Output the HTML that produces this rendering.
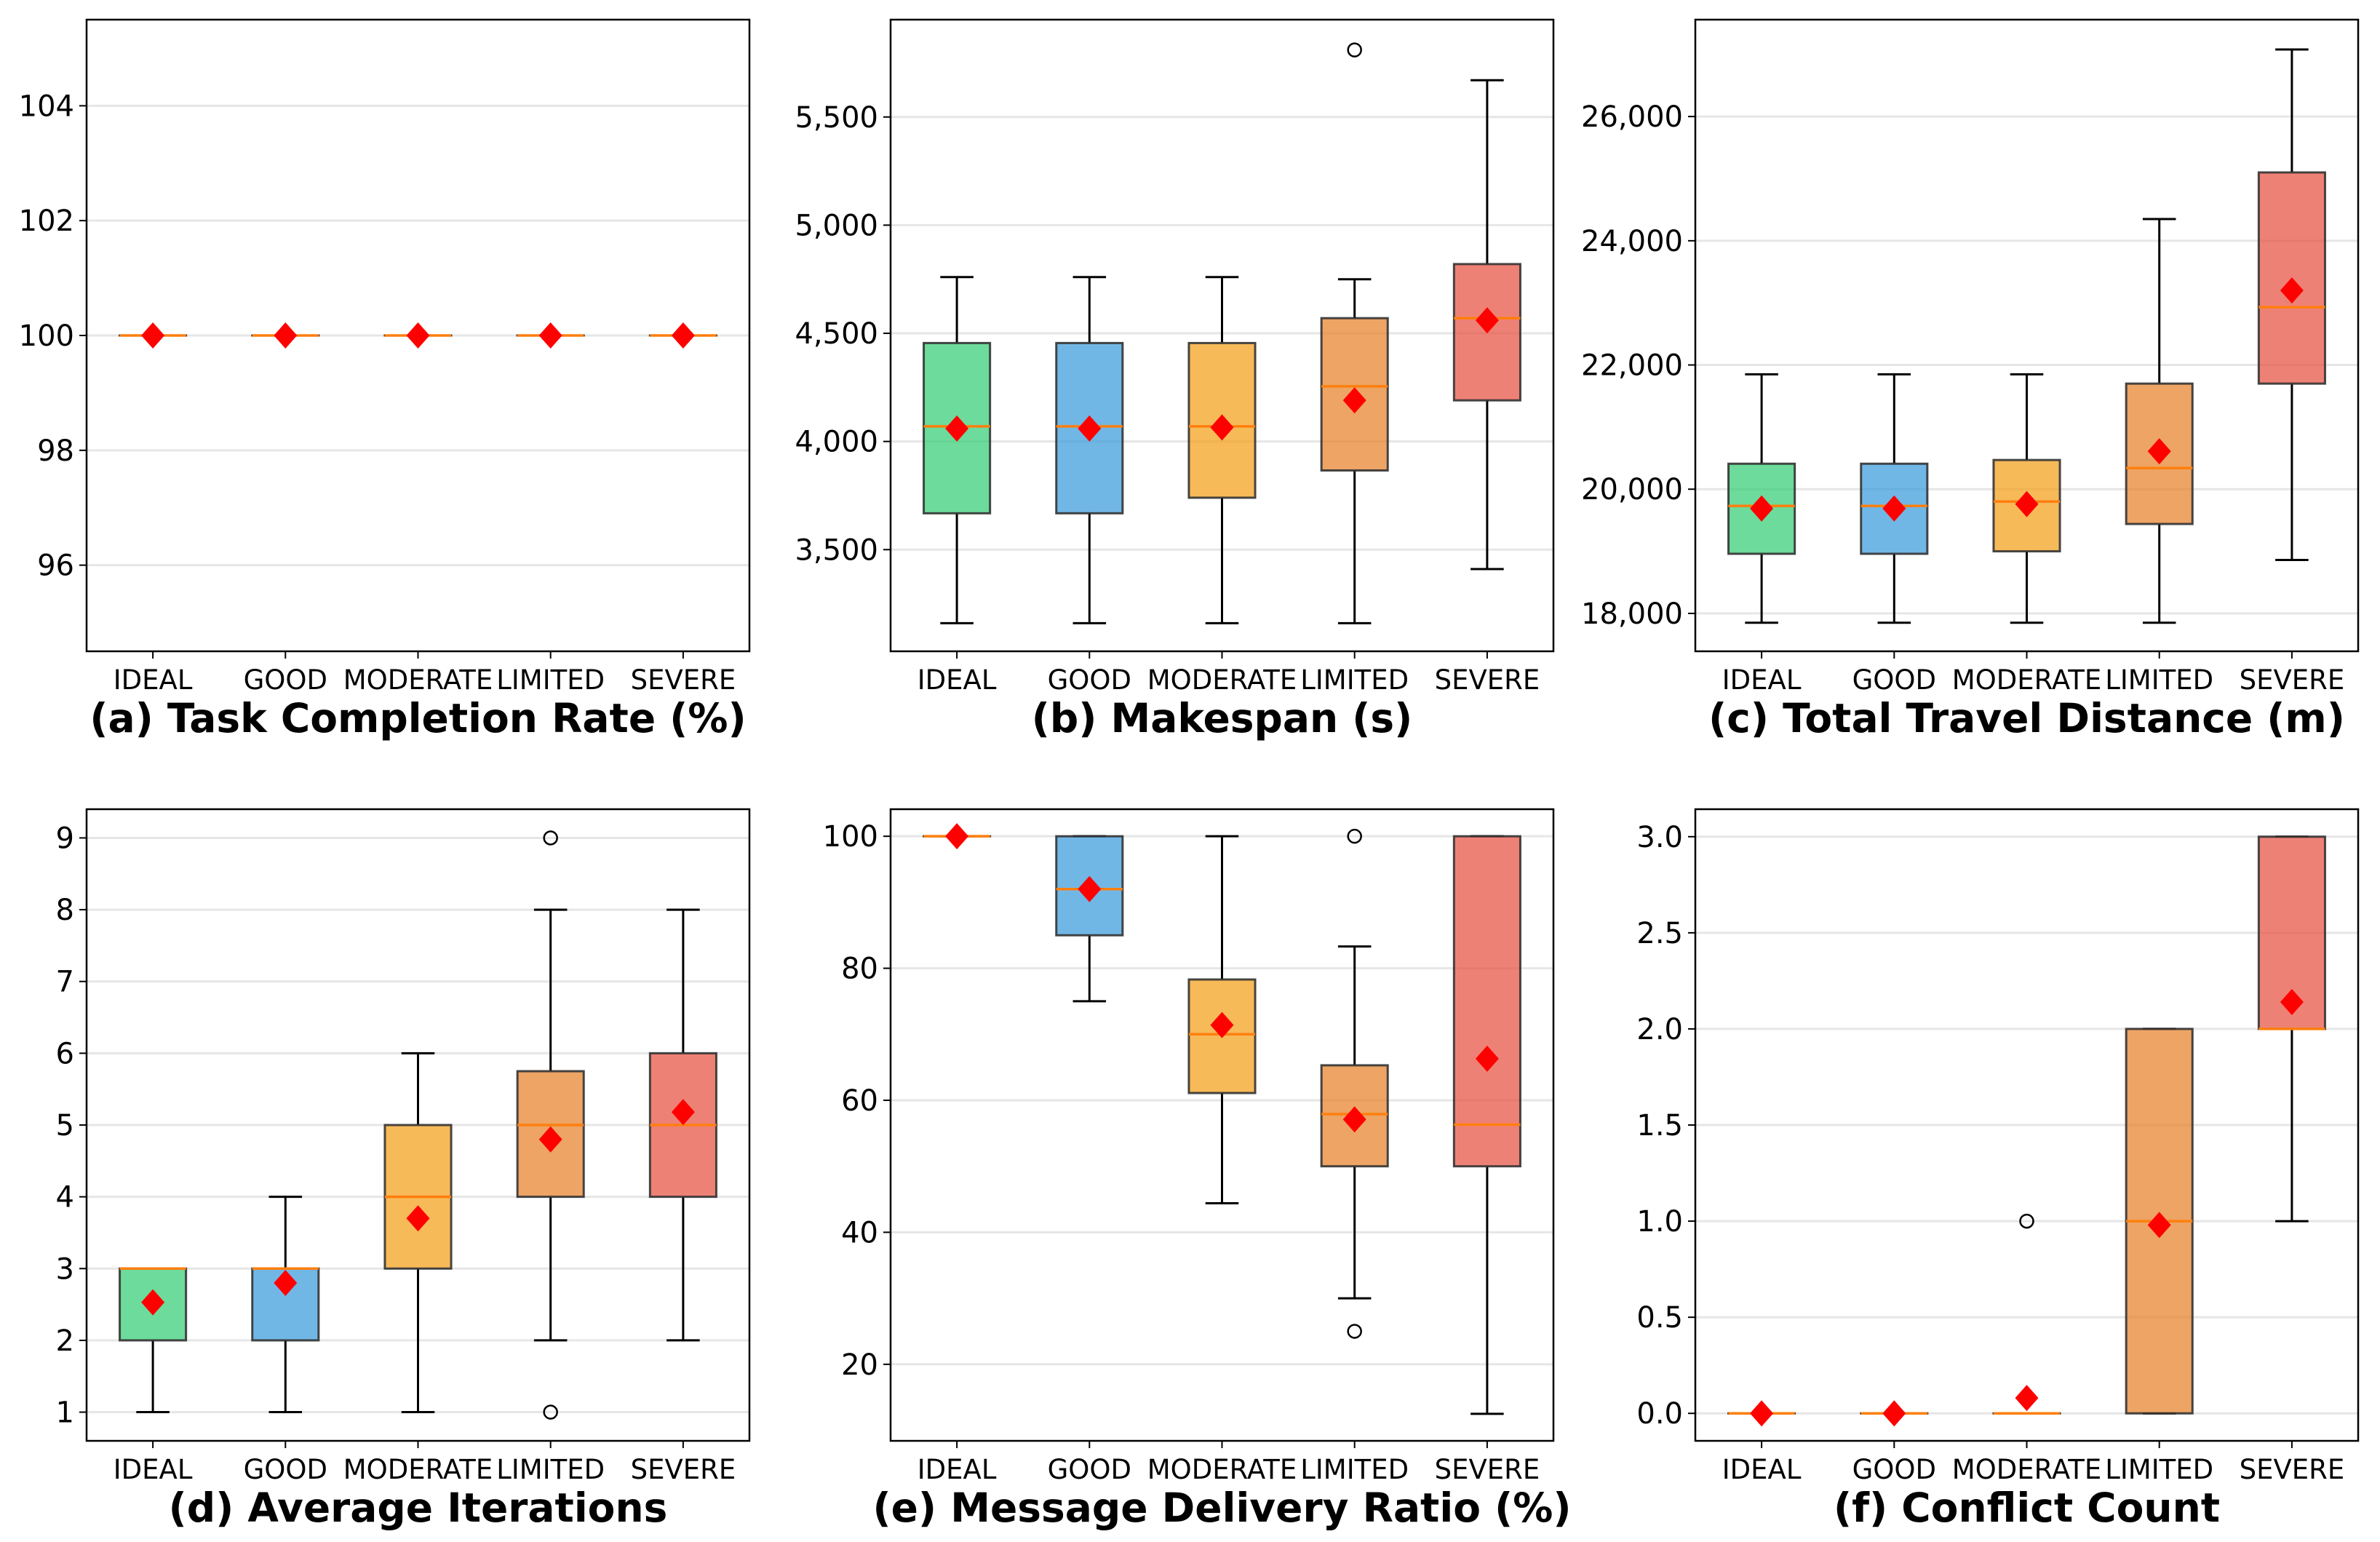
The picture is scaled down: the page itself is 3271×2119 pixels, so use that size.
<!DOCTYPE html>
<html><head><meta charset="utf-8">
<style>
html,body{margin:0;padding:0;background:#fff;}
svg{display:block;font-family:"DejaVu Sans","Liberation Sans",sans-serif;}
</style></head>
<body>
<svg id="fig" width="3271" height="2119" viewBox="0 0 3271 2119" xmlns="http://www.w3.org/2000/svg"></svg>
<script>
const categories = ["IDEAL","GOOD","MODERATE","LIMITED","SEVERE"];
const boxColors = ["#2ecc71","#3498db","#f39c12","#e67e22","#e74c3c"];

// (a) Task Completion Rate
const aLow=[100,100,100,100,100], aQ1=[100,100,100,100,100], aMed=[100,100,100,100,100], aQ3=[100,100,100,100,100], aHigh=[100,100,100,100,100], aMean=[100,100,100,100,100];
const aOut=[[],[],[],[],[]];
const aTicks=[96,98,100,102,104], aTickLabels=["96","98","100","102","104"];
// (b) Makespan
const bLow=[3160,3160,3160,3160,3410], bQ1=[3668,3668,3740,3866,4190], bMed=[4070,4070,4070,4255,4570], bQ3=[4455,4455,4455,4570,4820], bHigh=[4760,4760,4760,4750,5670], bMean=[4060,4060,4065,4190,4560];
const bOut=[[],[],[],[5810],[]];
const bTicks=[3500,4000,4500,5000,5500], bTickLabels=["3,500","4,000","4,500","5,000","5,500"];
// (c) Total Travel Distance
const cLow=[17850,17850,17850,17850,18860], cQ1=[18960,18960,19000,19440,21700], cMed=[19730,19730,19800,20340,22930], cQ3=[20410,20410,20470,21700,25100], cHigh=[21850,21850,21850,24350,27080], cMean=[19690,19690,19760,20610,23200];
const cOut=[[],[],[],[],[]];
const cTicks=[18000,20000,22000,24000,26000], cTickLabels=["18,000","20,000","22,000","24,000","26,000"];
// (d) Average Iterations
const dLow=[1,1,1,2,2], dQ1=[2,2,3,4,4], dMed=[3,3,4,5,5], dQ3=[3,3,5,5.75,6], dHigh=[3,4,6,8,8], dMean=[2.53,2.8,3.7,4.8,5.18];
const dOut=[[],[],[],[9,1],[]];
const dTicks=[1,2,3,4,5,6,7,8,9], dTickLabels=["1","2","3","4","5","6","7","8","9"];
// (e) Message Delivery Ratio
const eLow=[100,75,44.4,30,12.5], eQ1=[100,85,61.1,50,50], eMed=[100,92,70,57.9,56.3], eQ3=[100,100,78.3,65.3,100], eHigh=[100,100,100,83.3,100], eMean=[100,92,71.4,57.1,66.3];
const eOut=[[],[],[],[100,25],[]];
const eTicks=[20,40,60,80,100], eTickLabels=["20","40","60","80","100"];
// (f) Conflict Count
const fLow=[0,0,0,0,1], fQ1=[0,0,0,0,2], fMed=[0,0,0,1,2], fQ3=[0,0,0,2,3], fHigh=[0,0,0,2,3], fMean=[0,0,0.08,0.98,2.14];
const fOut=[[],[],[1],[],[]];
const fTicks=[0,0.5,1,1.5,2,2.5,3], fTickLabels=["0.0","0.5","1.0","1.5","2.0","2.5","3.0"];

const NS="http://www.w3.org/2000/svg";
const svg=document.getElementById('fig');
function el(tag,attrs,parent){const e=document.createElementNS(NS,tag);for(const k in attrs)e.setAttribute(k,attrs[k]);(parent||svg).appendChild(e);return e;}

const colX=[119,1224,2330], rowY=[27,1112], AW=911, AH=868;
const panels=[
 {key:"a",title:"(a) Task Completion Rate (%)",ymin:94.5,ymax:105.5,low:aLow,q1:aQ1,med:aMed,q3:aQ3,high:aHigh,mean:aMean,out:aOut,ticks:aTicks,labels:aTickLabels,c:0,r:0},
 {key:"b",title:"(b) Makespan (s)",ymin:3030,ymax:5950,low:bLow,q1:bQ1,med:bMed,q3:bQ3,high:bHigh,mean:bMean,out:bOut,ticks:bTicks,labels:bTickLabels,c:1,r:0},
 {key:"c",title:"(c) Total Travel Distance (m)",ymin:17390,ymax:27560,low:cLow,q1:cQ1,med:cMed,q3:cQ3,high:cHigh,mean:cMean,out:cOut,ticks:cTicks,labels:cTickLabels,c:2,r:0},
 {key:"d",title:"(d) Average Iterations",ymin:0.6,ymax:9.4,low:dLow,q1:dQ1,med:dMed,q3:dQ3,high:dHigh,mean:dMean,out:dOut,ticks:dTicks,labels:dTickLabels,c:0,r:1},
 {key:"e",title:"(e) Message Delivery Ratio (%)",ymin:8.4,ymax:104.1,low:eLow,q1:eQ1,med:eMed,q3:eQ3,high:eHigh,mean:eMean,out:eOut,ticks:eTicks,labels:eTickLabels,c:1,r:1},
 {key:"f",title:"(f) Conflict Count",ymin:-0.143,ymax:3.143,low:fLow,q1:fQ1,med:fMed,q3:fQ3,high:fHigh,mean:fMean,out:fOut,ticks:fTicks,labels:fTickLabels,c:2,r:1}
];

panels.forEach(p=>{
  const L=colX[p.c], T=rowY[p.r], R=L+AW, B=T+AH;
  const y=v=>B-(v-p.ymin)/(p.ymax-p.ymin)*AH;
  const x=i=>L+(i+0.5)/categories.length*AW;
  const g=el('g',{});
  
  
  p.ticks.forEach((t,i)=>{
    const yy=y(t);
    const gl=el('line',{x1:L,x2:R,y1:yy,y2:yy,stroke:"#e6e6e6","stroke-width":3},g);
    
    
    el('line',{x1:L-10,x2:L,y1:yy,y2:yy,stroke:"#000","stroke-width":2},g);
    const tx=el('text',{x:L-17,y:yy+14,"text-anchor":"end","font-size":40,fill:"#000"},g);
    tx.textContent=p.labels[i];
    
    
  });
  const bw=AW/categories.length*0.5;
  categories.forEach((cat,i)=>{
    const cx=x(i);
    const bg=el('g',{},g);
    
    
    el('line',{x1:cx,x2:cx,y1:y(p.low[i]),y2:y(p.q1[i]),stroke:"#000","stroke-width":3},bg);
    el('line',{x1:cx,x2:cx,y1:y(p.q3[i]),y2:y(p.high[i]),stroke:"#000","stroke-width":3},bg);
    el('line',{x1:cx-bw/4,x2:cx+bw/4,y1:y(p.low[i]),y2:y(p.low[i]),stroke:"#000","stroke-width":3},bg);
    el('line',{x1:cx-bw/4,x2:cx+bw/4,y1:y(p.high[i]),y2:y(p.high[i]),stroke:"#000","stroke-width":3},bg);
    const yt=y(p.q3[i]), yb=y(p.q1[i]);
    el('rect',{x:cx-bw/2,y:yt,width:bw,height:Math.max(yb-yt,0.01),fill:boxColors[i],"fill-opacity":0.7,stroke:"#333","stroke-opacity":0.9,"stroke-width":3},bg);
    el('line',{x1:cx-bw/2,x2:cx+bw/2,y1:y(p.med[i]),y2:y(p.med[i]),stroke:"#ff7f0e","stroke-width":3.5},bg);
    p.out[i].forEach(o=>{
      const c=el('circle',{cx:cx,cy:y(o),r:9,fill:"none",stroke:"#000","stroke-width":2.5},bg);
      
      
    });
    const my=y(p.mean[i]);
    const m=el('polygon',{points:`${cx},${my-18} ${cx+16},${my} ${cx},${my+18} ${cx-16},${my}`,fill:"#ff0000"},bg);
    
    
    el('line',{x1:cx,x2:cx,y1:B,y2:B+10,stroke:"#000","stroke-width":2},g);
    const xt=el('text',{x:cx,y:B+52,"text-anchor":"middle","font-size":37,fill:"#000"},g);
    xt.textContent=cat;
    
    
  });
  el('rect',{x:L,y:T,width:AW,height:AH,fill:"none",stroke:"#000","stroke-width":2.5},g);
  const tt=el('text',{x:L+AW/2,y:B+111,"text-anchor":"middle","font-size":55,"font-weight":"bold",fill:"#000"},g);
  tt.textContent=p.title;
  
  
});
</script>
</body></html>
